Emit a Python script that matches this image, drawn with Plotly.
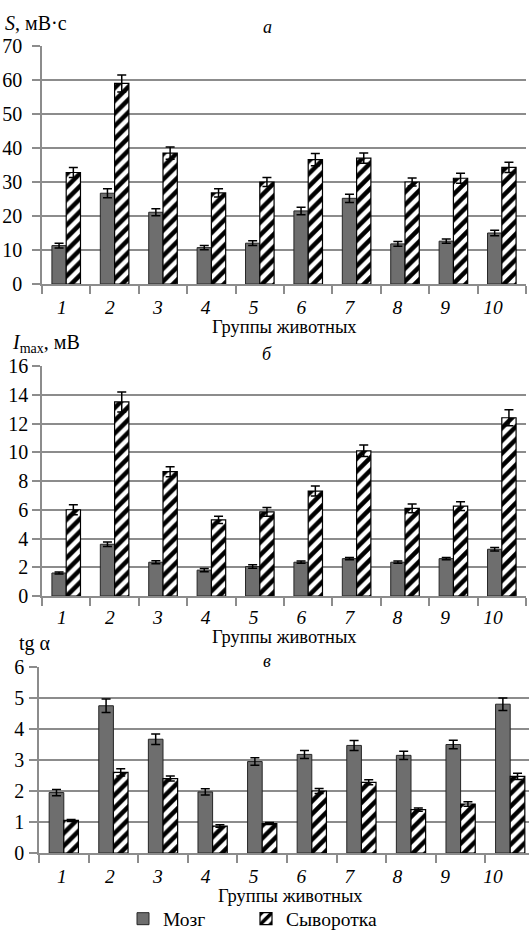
import plotly.graph_objects as go

W, H = 529, 935

groups = ['1', '2', '3', '4', '5', '6', '7', '8', '9', '10']
series_names = ['Мозг', 'Сыворотка']

s_brain = [11.3, 26.7, 21.1, 10.7, 12.0, 21.5, 25.2, 11.8, 12.6, 15.0]
s_brain_err = [0.7, 1.3, 1.0, 0.6, 0.7, 1.1, 1.2, 0.7, 0.6, 0.8]
s_serum = [32.8, 59.0, 38.5, 26.8, 30.0, 36.6, 37.0, 30.0, 31.1, 34.3]
s_serum_err = [1.5, 2.5, 1.8, 1.2, 1.3, 1.8, 1.5, 1.2, 1.5, 1.5]

imax_brain = [1.6, 3.6, 2.35, 1.8, 2.05, 2.35, 2.6, 2.35, 2.6, 3.25]
imax_brain_err = [0.07, 0.15, 0.1, 0.12, 0.12, 0.08, 0.08, 0.08, 0.08, 0.12]
imax_serum = [6.0, 13.5, 8.65, 5.3, 5.85, 7.3, 10.1, 6.1, 6.25, 12.4]
imax_serum_err = [0.35, 0.7, 0.35, 0.25, 0.3, 0.35, 0.4, 0.3, 0.3, 0.55]

tg_brain = [1.95, 4.75, 3.67, 1.97, 2.95, 3.18, 3.47, 3.15, 3.5, 4.8]
tg_brain_err = [0.1, 0.22, 0.17, 0.1, 0.12, 0.13, 0.16, 0.13, 0.14, 0.2]
tg_serum = [1.05, 2.6, 2.4, 0.87, 0.95, 2.0, 2.28, 1.4, 1.58, 2.47]
tg_serum_err = [0.03, 0.12, 0.08, 0.04, 0.03, 0.08, 0.08, 0.05, 0.07, 0.1]

y_titles = ['<i>S</i>, мВ·с', '<i>I</i><sub>max</sub>, мВ', 'tg α']
panel_letters = ['<i>а</i>', '<i>б</i>', '<i>в</i>']
x_title = 'Группы животных'

FONT = 'Liberation Serif'
FS = 19.5
GRID = '#8c8c8c'
BRAIN_FILL = '#6e6e6e'
EDGE = '#262626'


def px_x(v):
    return v / W


def px_y(v):
    return 1 - v / H


panels = [
    dict(brain=s_brain, brain_err=s_brain_err, serum=s_serum, serum_err=s_serum_err,
         yrange=[0, 70], dtick=10, top=46, bottom=284, left=42, right=526, xr=None, ystand=6,
         lstand=9, ytitle=(3, 23), letter=(267, 27), xt=(284.5, 327)),
    dict(brain=imax_brain, brain_err=imax_brain_err, serum=imax_serum, serum_err=imax_serum_err,
         yrange=[0, 16], dtick=2, top=366, bottom=596, left=42, right=526, xr=None, ystand=0,
         lstand=7, ytitle=(10, 343), letter=(267, 354), xt=(284.5, 637)),
    dict(brain=tg_brain, brain_err=tg_brain_err, serum=tg_serum, serum_err=tg_serum_err,
         yrange=[0, 6], dtick=1, top=667, bottom=853, left=39, right=529,
         xr=[-0.5, 9.5 - 6 / 49.6], ystand=1,
         lstand=9, ytitle=(17, 643), letter=(267, 661), xt=(290, 896)),
]

fig = go.Figure()
layout = {}
annotations = []

for i, p in enumerate(panels):
    n = i + 1
    xa = 'x' if n == 1 else f'x{n}'
    ya = 'y' if n == 1 else f'y{n}'
    lx = f'x{n + 3}'
    ly = f'y{n + 3}'
    fig.add_trace(go.Bar(
        x=groups, y=p['brain'], name=series_names[0], xaxis=xa, yaxis=ya,
        marker=dict(color=BRAIN_FILL, line=dict(color=EDGE, width=1)),
        error_y=dict(type='data', array=p['brain_err'], color='black', thickness=1.5, width=4.5),
        showlegend=(n == 1), legend='legend'))
    fig.add_trace(go.Bar(
        x=groups, y=p['serum'], name=series_names[1], xaxis=xa, yaxis=ya,
        marker=dict(color='white', line=dict(color='black', width=1.2),
                    pattern=dict(shape='/', fgcolor='black', bgcolor='white', size=9,
                                 solidity=0.5, fillmode='replace')),
        error_y=dict(type='data', array=p['serum_err'], color='black', thickness=1.5, width=4.5),
        showlegend=(n == 1), legend='legend2'))
    # carrier for the category labels (typeset slightly apart from the bar slots, as in the source)
    fig.add_trace(go.Scatter(x=list(range(1, len(groups) + 1)), y=[None] * len(groups),
                             xaxis=lx, yaxis=ly, showlegend=False, hoverinfo='skip', mode='markers'))

    xkey = 'xaxis' if n == 1 else f'xaxis{n}'
    ykey = 'yaxis' if n == 1 else f'yaxis{n}'
    ydom = [px_y(p['bottom']), px_y(p['top'])]
    xd = dict(domain=[px_x(p['left']), px_x(p['right'])], anchor=ya, type='category',
              tickson='boundaries', ticks='outside', ticklen=8, tickcolor=GRID, tickwidth=1.5,
              showticklabels=False, showgrid=False, showline=True, linecolor=GRID, linewidth=1.5,
              fixedrange=True, automargin=False)
    if p['xr'] is not None:
        xd['range'] = p['xr']
    layout[xkey] = xd
    layout[ykey] = dict(domain=ydom, anchor=xa,
                        range=p['yrange'], dtick=p['dtick'], tick0=0,
                        showgrid=True, gridcolor=GRID, gridwidth=1.5, zeroline=False,
                        ticks='outside', ticklen=8, tickcolor=GRID, tickwidth=1.5,
                        ticklabelstandoff=p['ystand'],
                        showline=True, linecolor=GRID, linewidth=1.5,
                        tickfont=dict(family=FONT, size=FS + 0.5, color='black'),
                        fixedrange=True, automargin=False)
    layout[f'xaxis{n + 3}'] = dict(domain=[px_x(38), px_x(517)], anchor=ly, range=[0.5, 10.5],
                                   tickmode='array', tickvals=list(range(1, len(groups) + 1)),
                                   ticktext=groups, showgrid=False, showline=False, zeroline=False,
                                   ticks='', ticklabelstandoff=p['lstand'],
                                   tickfont=dict(family=FONT, size=FS, color='black', style='italic'),
                                   fixedrange=True, automargin=False)
    layout[f'yaxis{n + 3}'] = dict(domain=ydom, anchor=lx, range=[0, 1], visible=False,
                                   showgrid=False, zeroline=False, fixedrange=True, automargin=False)
    annotations.append(dict(text=y_titles[i], x=px_x(p['ytitle'][0]), y=px_y(p['ytitle'][1]),
                            xref='paper', yref='paper', xanchor='left', yanchor='middle',
                            showarrow=False, font=dict(family=FONT, size=FS + 0.5, color='black')))
    annotations.append(dict(text=panel_letters[i], x=px_x(p['letter'][0]), y=px_y(p['letter'][1]),
                            xref='paper', yref='paper', xanchor='center', yanchor='middle',
                            showarrow=False, font=dict(family=FONT, size=18, color='black')))
    annotations.append(dict(text=x_title, x=px_x(p['xt'][0]), y=px_y(p['xt'][1]),
                            xref='paper', yref='paper', xanchor='center', yanchor='middle',
                            showarrow=False, font=dict(family=FONT, size=18.5, color='black')))

legend_common = dict(orientation='h', xanchor='left', yanchor='middle', y=px_y(919),
                     font=dict(family=FONT, size=FS, color='black'), bgcolor='rgba(0,0,0,0)')

fig.update_layout(
    template='none',
    width=W, height=H, margin=dict(l=0, r=0, t=0, b=0, pad=0, autoexpand=False),
    paper_bgcolor='white', plot_bgcolor='rgba(0,0,0,0)',
    barmode='group', bargap=0.41, bargroupgap=0,
    annotations=annotations,
    showlegend=True,
    legend=dict(x=px_x(123), **legend_common),
    legend2=dict(x=px_x(246), **legend_common),
    font=dict(family=FONT, color='black'),
    **layout,
)

fig.write_html('out.html', config={'displayModeBar': False},
               post_script="document.body.style.margin='0';document.body.style.overflow='hidden';")
